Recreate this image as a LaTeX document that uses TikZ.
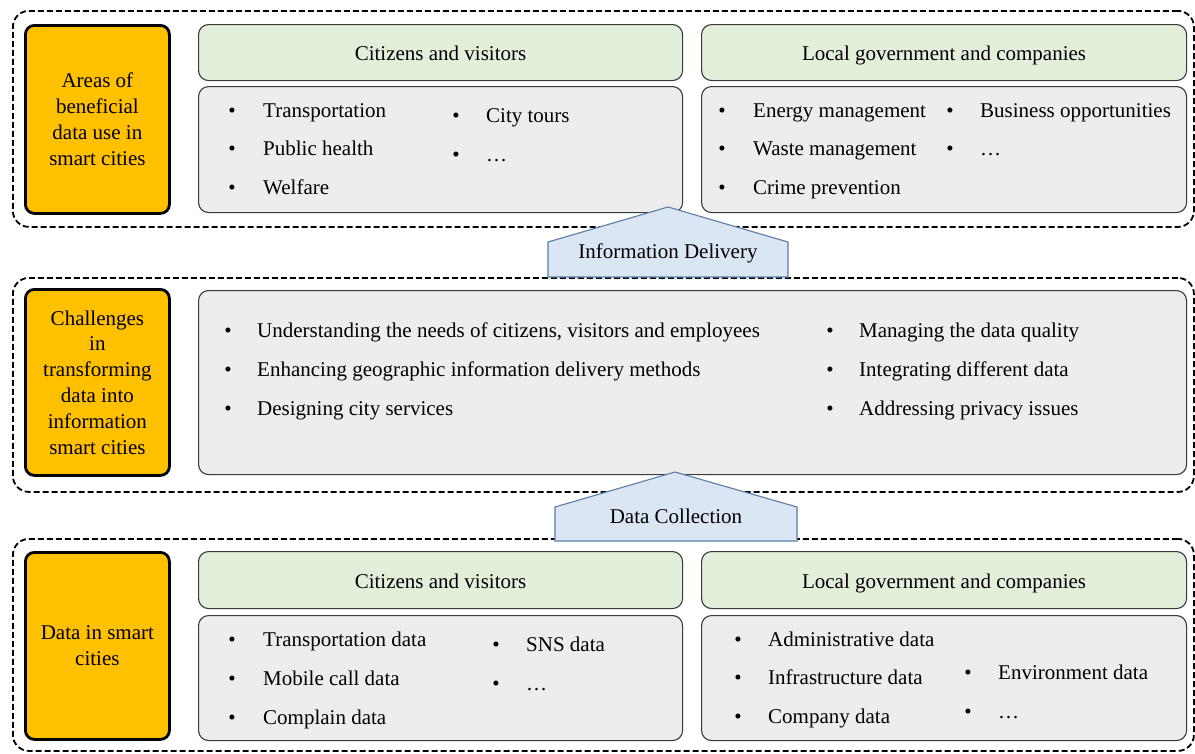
\documentclass[tikz,border=0pt]{standalone}
\usepackage{fontspec}
\setmainfont{Liberation Serif}
\definecolor{orangeF}{HTML}{FFC000}
\definecolor{greenF}{HTML}{E2EFDA}
\definecolor{grayF}{HTML}{EDEDED}
\definecolor{edgeC}{HTML}{3A3A3A}
\definecolor{blueF}{HTML}{DAE6F4}
\definecolor{blueD}{HTML}{5A7EA8}
\newcommand\bodyfont{\fontsize{21}{25.8}\selectfont}
\newcommand\bi[5]{%
  \node[itm] (#5) at (#2,#3) {#4};
  \node[bul] (#5b) at (#1,#3) {•};}
\tikzset{
  outer/.style={draw=black, line width=1.8pt, dash pattern=on 6pt off 3pt, rounded corners=16pt},
  lab/.style={draw=black, line width=2.8pt, fill=orangeF, rounded corners=9pt, align=center,
    inner sep=0pt, font=\bodyfont, anchor=north west, minimum width=144pt},
  head/.style={draw=edgeC, line width=1.1pt, fill=greenF, rounded corners=10pt, inner sep=0pt,
    font=\bodyfont, anchor=north west, minimum width=484pt, minimum height=56pt,
    text height=16pt, text depth=0pt},
  panel/.style={draw=edgeC, line width=1.1pt, fill=grayF, rounded corners=10pt, inner sep=0pt,
    anchor=north west},
  itm/.style={anchor=base west, inner sep=0pt, font=\bodyfont},
  bul/.style={anchor=base, inner sep=0pt, font=\bodyfont},
  arr/.style={draw=blueD, fill=blueF, line width=1.1pt, line join=miter},
  arrtext/.style={anchor=base, inner sep=0pt, font=\bodyfont}
}
\begin{document}
\begin{tikzpicture}[x=1pt,y=-1pt]
\useasboundingbox (0,0) rectangle (1195,753);
% outer dashed groups
\node[outer, anchor=north west, minimum width=1181pt, minimum height=216pt, inner sep=0pt] (g1) at (12,10) {};
\node[outer, anchor=north west, minimum width=1181pt, minimum height=214pt, inner sep=0pt] (g2) at (12,277) {};
\node[outer, anchor=north west, minimum width=1181pt, minimum height=212pt, inner sep=0pt] (g3) at (12,538) {};
% orange labels
\node[lab, minimum height=188pt] (l1) at (24,24) {Areas of\\beneficial\\data use in\\smart cities};
\node[lab, minimum height=186pt] (l2) at (24,288) {Challenges\\in\\transforming\\data into\\information\\smart cities};
\node[lab, minimum height=187pt] (l3) at (24,551) {Data in smart\\cities};
% top row
\node[head] (h1) at (198,24) {Citizens and visitors};
\node[head, minimum width=485pt] (h2) at (701,24) {Local government and companies};
\node[panel, minimum width=484pt, minimum height=126pt] (p1) at (198,86) {};
\node[panel, minimum width=485pt, minimum height=126pt] (p2) at (701,86) {};
\bi{232}{263}{117}{Transportation}{a1}
\bi{232}{263}{155.5}{Public health}{a2}
\bi{232}{263}{194}{Welfare}{a3}
\bi{456}{486}{122}{City tours}{a4}
\bi{456}{486}{161}{…}{a5}
\bi{722}{753}{117}{Energy management}{b1}
\bi{722}{753}{155.5}{Waste management}{b2}
\bi{722}{753}{194}{Crime prevention}{b3}
\bi{950}{980}{117}{Business opportunities}{b4}
\bi{950}{980}{155.5}{…}{b5}
% middle row
\node[panel, minimum width=988pt, minimum height=184pt] (p3) at (198,290) {};
\bi{228}{257}{337}{Understanding the needs of citizens, visitors and employees}{c1}
\bi{228}{257}{376}{Enhancing geographic information delivery methods}{c2}
\bi{228}{257}{415}{Designing city services}{c3}
\bi{830}{859}{337}{Managing the data quality}{c4}
\bi{830}{859}{376}{Integrating different data}{c5}
\bi{830}{859}{415}{Addressing privacy issues}{c6}
% bottom row
\node[head, minimum height=57pt] (h3) at (198,551) {Citizens and visitors};
\node[head, minimum width=485pt, minimum height=57pt] (h4) at (701,551) {Local government and companies};
\node[panel, minimum width=484pt, minimum height=125pt] (p4) at (198,615) {};
\node[panel, minimum width=485pt, minimum height=125pt] (p5) at (701,615) {};
\bi{232}{263}{646}{Transportation data}{d1}
\bi{232}{263}{685}{Mobile call data}{d2}
\bi{232}{263}{724}{Complain data}{d3}
\bi{496}{526}{651}{SNS data}{d4}
\bi{496}{526}{690}{…}{d5}
\bi{738}{768}{646}{Administrative data}{e1}
\bi{738}{768}{684.5}{Infrastructure data}{e2}
\bi{738}{768}{723}{Company data}{e3}
\bi{968}{998}{679}{Environment data}{e4}
\bi{968}{998}{718}{…}{e5}
% arrows
\coordinate (ia) at (668,207);
\draw[arr] (548,277) -- (548,242) -- (ia) -- (788,242) -- (788,277) -- cycle;
\node[arrtext] (it) at (668,258) {Information Delivery};
\coordinate (da) at (675,472);
\draw[arr] (555,541) -- (555,507) -- (da) -- (797,507) -- (797,541) -- cycle;
\node[arrtext] (dt) at (676,523) {Data Collection};
\end{tikzpicture}
\end{document}
